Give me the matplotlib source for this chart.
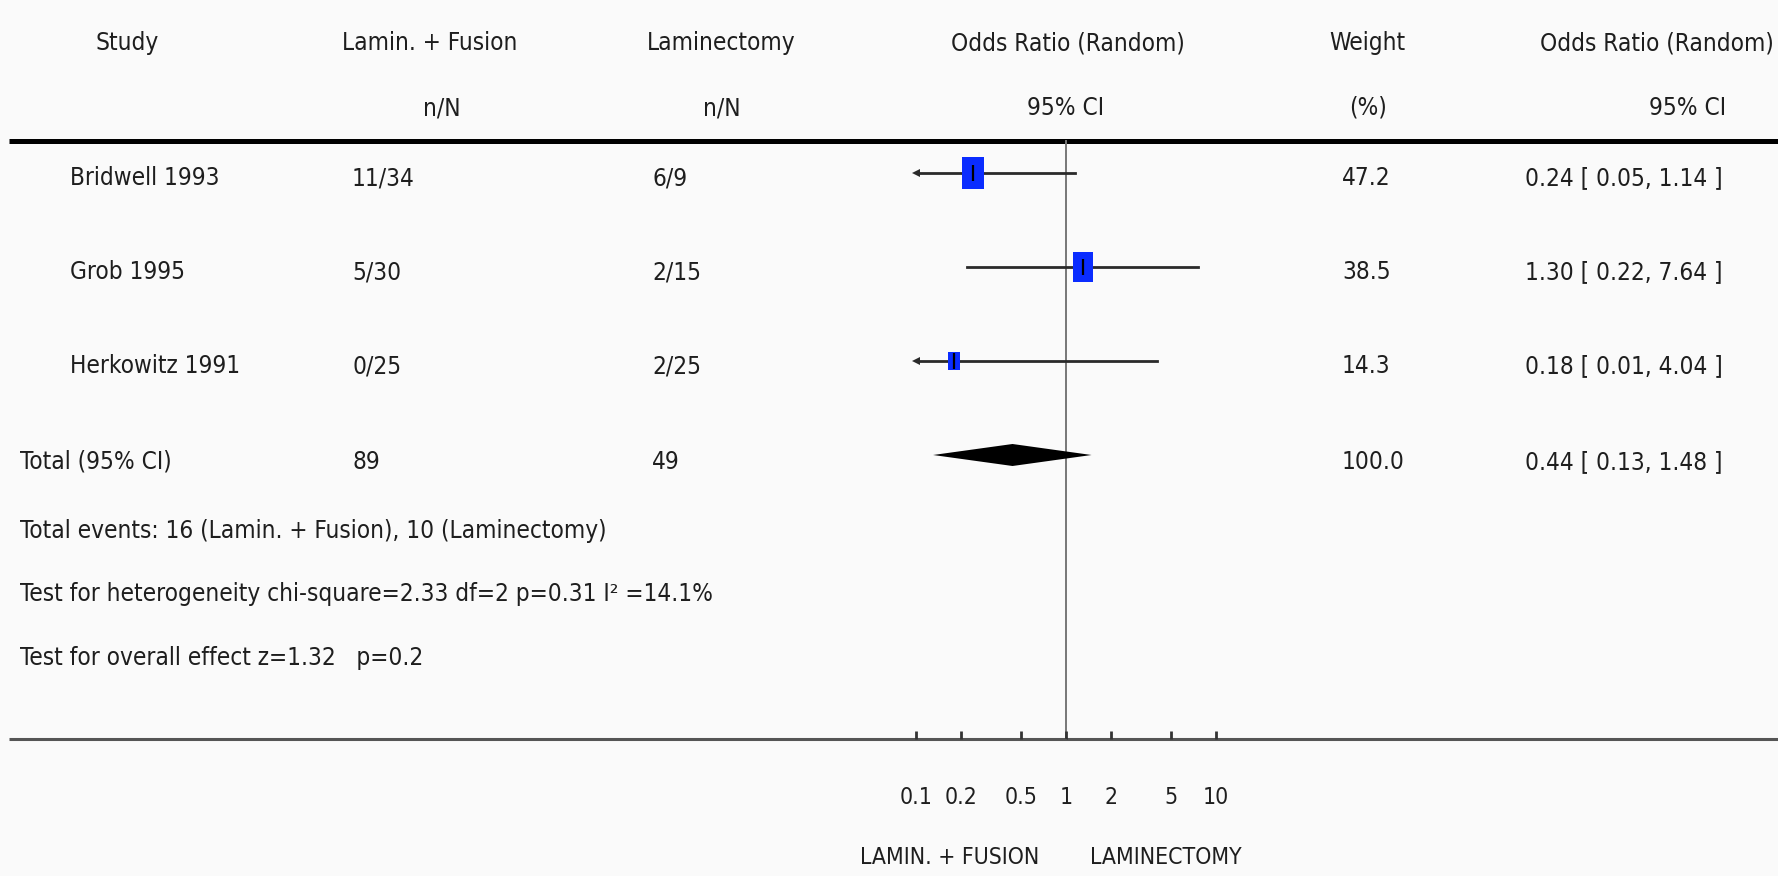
import matplotlib
matplotlib.use("Agg")
import matplotlib.pyplot as plt
import numpy as np

plt.rcParams['font.family'] = ['DejaVu Sans']
plt.rcParams['font.stretch'] = 'condensed'

# data
studies = ["Bridwell 1993", "Grob 1995", "Herkowitz 1991"]
fusion_nN = ["11/34", "5/30", "0/25"]
lamin_nN = ["6/9", "2/15", "2/25"]
odds = [0.24, 1.30, 0.18]
ci_low = [0.05, 0.22, 0.01]
ci_high = [1.14, 7.64, 4.04]
weights = [47.2, 38.5, 14.3]

total_fusion = "89"
total_lamin = "49"
total_weight = 100.0
total_or = 0.44
total_low = 0.13
total_high = 1.48

footer = ["Total events: 16 (Lamin. + Fusion), 10 (Laminectomy)",
          "Test for heterogeneity chi-square=2.33 df=2 p=0.31 I\u00b2 =14.1%",
          "Test for overall effect z=1.32   p=0.2"]

tick_vals = [0.1, 0.2, 0.5, 1, 2, 5, 10]
tick_labels = ["0.1", "0.2", "0.5", "1", "2", "5", "10"]

W, H = 1778, 876
fig = plt.figure(figsize=(W / 100, H / 100), dpi=100)
fig.patch.set_facecolor('#fafafa')

# overlay axes in pixel coords for the table text
ax = fig.add_axes([0, 0, 1, 1])
ax.set_xlim(0, W)
ax.set_ylim(H, 0)
ax.axis('off')

# forest axes, log scale, 0.1..10
fx = fig.add_axes([916 / W, 0, 300 / W, 1])
fx.set_xscale('log')
fx.set_xlim(0.1, 10)
fx.set_ylim(H, 0)
fx.axis('off')

fs = 17.5
tc = '#1e1e1e'

def txt(x, y, s, ha='left', size=fs):
    ax.text(x, y, s, ha=ha, va='center', fontsize=size, color=tc)

# header
txt(127, 43, "Study", 'center')
txt(430, 43, "Lamin. + Fusion", 'center')
txt(442, 108, "n/N", 'center')
txt(721, 43, "Laminectomy", 'center')
txt(722, 108, "n/N", 'center')
txt(1068, 43, "Odds Ratio (Random)", 'center')
txt(1066, 108, "95% CI", 'center')
txt(1367, 43, "Weight", 'center')
txt(1368, 108, "(%)", 'center')
txt(1657, 43, "Odds Ratio (Random)", 'center')
txt(1688, 108, "95% CI", 'center')

# rules
ax.plot([9, W], [141, 141], color='black', lw=3.6, solid_capstyle='butt')
ax.plot([9, W], [739, 739], color='#555555', lw=2.2, solid_capstyle='butt')
fx.plot([1, 1], [141, 739], color='#777777', lw=1.4)

row_y = [173, 267, 361]
total_y = 455

for i, name in enumerate(studies):
    y = row_y[i]
    ty = y + 5
    txt(70, ty, name)
    txt(352, ty, fusion_nN[i])
    txt(652, ty, lamin_nN[i])
    txt(1342, ty, f"{weights[i]:.1f}")
    txt(1525, ty, f"{odds[i]:.2f} [ {ci_low[i]:.2f}, {ci_high[i]:.2f} ]")

    lo = max(ci_low[i], 0.1)
    hi = min(ci_high[i], 10)
    fx.plot([lo, hi], [y, y], color='#2a2a2a', lw=2.0, zorder=2)
    if ci_low[i] < 0.1:
        fx.plot([0.1], [y], marker='<', color='#2a2a2a', markersize=6,
                markeredgewidth=0, zorder=2, clip_on=False)
    # box sized by weight (taller than wide, as in the original)
    h = 3.45 * np.sqrt(weights[i])
    box = [(-0.66, -1), (0.66, -1), (0.66, 1), (-0.66, 1), (-0.66, -1)]
    fx.plot([odds[i]], [y], marker=box, markersize=h, color='#0a2cff',
            markeredgewidth=0, linestyle='none', zorder=3)
    fx.plot([odds[i]], [y], marker='|', markersize=11, color='black',
            markeredgewidth=1.6, zorder=4)

# total row
ty = total_y + 7
txt(20, ty, "Total (95% CI)")
txt(352, ty, total_fusion)
txt(652, ty, total_lamin)
txt(1342, ty, f"{total_weight:.1f}")
txt(1525, ty, f"{total_or:.2f} [ {total_low:.2f}, {total_high:.2f} ]")
fx.fill([total_low, total_or, total_high, total_or],
        [total_y, total_y - 11, total_y, total_y + 11], color='black', lw=0, zorder=3)

for k, line in enumerate(footer):
    txt(20, 531 + 63.5 * k, line)

# axis ticks
fx.vlines(tick_vals, 731, 739, color='#333333', lw=2, clip_on=False)
for v, lab in zip(tick_vals, tick_labels):
    fx.text(v, 797, lab, ha='center', va='center', fontsize=fs - 1, color=tc)

txt(950, 858, "LAMIN. + FUSION", 'center', fs - 1)
txt(1166, 858, "LAMINECTOMY", 'center', fs - 1)

fig.savefig("out.png", dpi=100, facecolor=fig.get_facecolor())
